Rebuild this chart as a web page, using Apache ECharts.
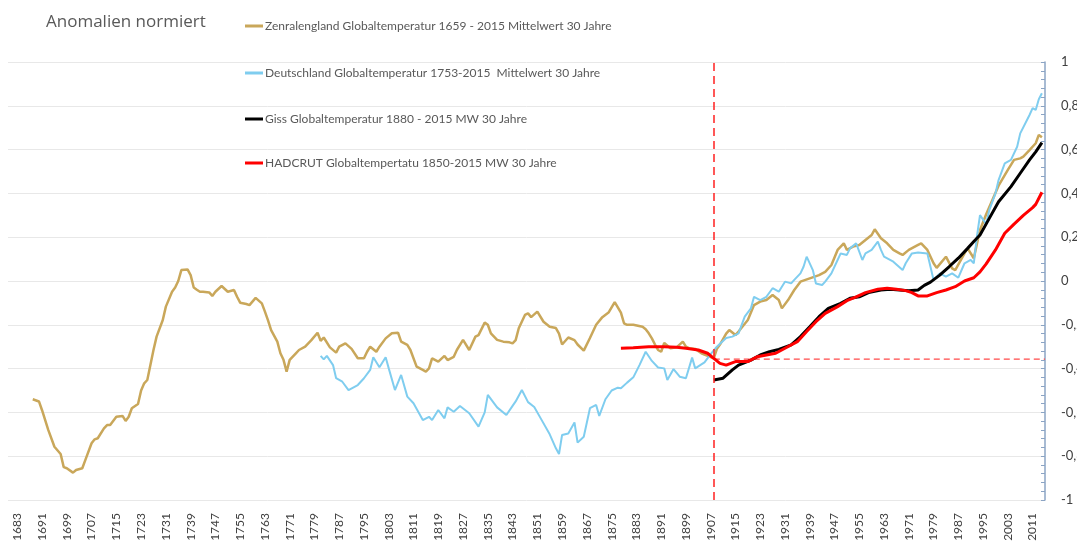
<!DOCTYPE html>
<html>
<head>
<meta charset="utf-8">
<script src="https://cdn.jsdelivr.net/npm/echarts@6/dist/echarts.min.js"></script>
<style>
html, body { margin: 0; padding: 0; background: #fff; }
#chart { width: 1077px; height: 552px; }
</style>
</head>
<body>
<div id="chart"></div>
<script>
// Zentralengland (gold)
var goldYears = [1688,1690,1691,1693,1695,1697,1698,1699,1701,1702,1704,1705,1707,1708,1709,1711,1712,1713,1715,1717,1718,1719,1720,1722,1723,1724,1725,1726,1727,1728,1730,1731,1733,1734,1735,1736,1738,1739,1740,1741,1742,1743,1745,1746,1747,1749,1751,1753,1754,1755,1757,1758,1760,1762,1763,1764,1765,1767,1768,1769,1770,1771,1773,1774,1776,1778,1780,1781,1782,1784,1786,1787,1789,1791,1793,1795,1796,1797,1799,1800,1802,1804,1806,1807,1809,1810,1812,1814,1815,1816,1817,1819,1821,1822,1824,1825,1827,1829,1831,1832,1834,1835,1836,1837,1838,1840,1842,1843,1844,1845,1847,1848,1849,1851,1853,1855,1857,1858,1859,1861,1863,1864,1866,1868,1870,1872,1874,1876,1878,1879,1880,1882,1885,1886,1887,1888,1889,1890,1891,1892,1894,1896,1898,1899,1900,1902,1904,1906,1908,1909,1910,1912,1913,1915,1916,1919,1921,1923,1925,1927,1929,1930,1932,1934,1936,1939,1942,1944,1946,1948,1950,1951,1953,1955,1957,1959,1960,1962,1964,1966,1968,1969,1971,1974,1975,1977,1979,1980,1983,1985,1986,1989,1990,1992,1994,1996,1998,2000,2003,2005,2007,2008,2010,2012,2013,2014];
var goldVals = [-0.54,-0.55,-0.59,-0.68,-0.757,-0.79,-0.85,-0.855,-0.875,-0.863,-0.855,-0.817,-0.741,-0.723,-0.718,-0.673,-0.658,-0.658,-0.62,-0.616,-0.639,-0.62,-0.581,-0.562,-0.5,-0.467,-0.452,-0.384,-0.315,-0.254,-0.178,-0.117,-0.049,-0.03,0.0,0.05,0.053,0.027,-0.03,-0.04,-0.049,-0.049,-0.052,-0.068,-0.049,-0.023,-0.049,-0.041,-0.072,-0.099,-0.105,-0.11,-0.077,-0.102,-0.14,-0.18,-0.224,-0.277,-0.33,-0.36,-0.414,-0.36,-0.33,-0.315,-0.3,-0.27,-0.236,-0.273,-0.258,-0.303,-0.327,-0.3,-0.285,-0.31,-0.353,-0.353,-0.323,-0.3,-0.323,-0.3,-0.262,-0.239,-0.236,-0.277,-0.292,-0.315,-0.391,-0.406,-0.414,-0.399,-0.353,-0.368,-0.342,-0.361,-0.346,-0.315,-0.269,-0.315,-0.254,-0.247,-0.19,-0.2,-0.239,-0.254,-0.269,-0.277,-0.28,-0.285,-0.27,-0.216,-0.155,-0.148,-0.165,-0.14,-0.186,-0.209,-0.215,-0.24,-0.29,-0.258,-0.27,-0.29,-0.318,-0.26,-0.2,-0.165,-0.144,-0.096,-0.144,-0.193,-0.2,-0.2,-0.209,-0.22,-0.239,-0.262,-0.29,-0.315,-0.323,-0.283,-0.307,-0.303,-0.277,-0.3,-0.307,-0.31,-0.33,-0.342,-0.353,-0.31,-0.29,-0.24,-0.224,-0.247,-0.231,-0.178,-0.11,-0.094,-0.087,-0.064,-0.087,-0.125,-0.087,-0.041,-0.003,0.012,0.027,0.042,0.073,0.142,0.172,0.142,0.157,0.164,0.187,0.21,0.236,0.195,0.172,0.142,0.126,0.119,0.142,0.165,0.172,0.142,0.081,0.06,0.111,0.058,0.05,0.126,0.149,0.104,0.233,0.305,0.37,0.435,0.507,0.553,0.56,0.568,0.598,0.629,0.667,0.656];

// Deutschland (hellblau)
var blueYears = [1781,1782,1783,1785,1786,1788,1790,1793,1795,1797,1798,1800,1802,1803,1805,1807,1809,1811,1814,1816,1817,1819,1821,1822,1824,1826,1829,1832,1834,1835,1838,1841,1843,1844,1846,1848,1850,1852,1855,1857,1858,1859,1861,1863,1864,1866,1868,1870,1871,1873,1875,1877,1878,1880,1882,1884,1886,1888,1890,1892,1893,1895,1897,1899,1901,1902,1905,1907,1909,1912,1914,1916,1918,1920,1921,1923,1925,1927,1929,1930,1931,1933,1934,1936,1937,1938,1940,1941,1943,1944,1946,1948,1949,1951,1952,1954,1956,1957,1959,1961,1962,1963,1966,1969,1970,1972,1974,1977,1978,1979,1981,1983,1985,1987,1989,1991,1992,1993,1994,1996,1997,1999,2000,2002,2004,2006,2007,2010,2011,2012,2013,2014];
var blueVals = [-0.342,-0.358,-0.342,-0.384,-0.444,-0.46,-0.498,-0.475,-0.444,-0.406,-0.348,-0.394,-0.348,-0.399,-0.498,-0.429,-0.528,-0.558,-0.635,-0.62,-0.635,-0.589,-0.627,-0.577,-0.597,-0.571,-0.604,-0.665,-0.6,-0.52,-0.577,-0.612,-0.57,-0.55,-0.498,-0.553,-0.575,-0.625,-0.7,-0.764,-0.79,-0.703,-0.696,-0.646,-0.738,-0.711,-0.581,-0.566,-0.616,-0.54,-0.5,-0.487,-0.49,-0.464,-0.44,-0.384,-0.323,-0.365,-0.395,-0.399,-0.452,-0.402,-0.437,-0.444,-0.35,-0.399,-0.372,-0.334,-0.3,-0.26,-0.254,-0.239,-0.163,-0.125,-0.072,-0.087,-0.072,-0.033,-0.049,-0.026,-0.003,-0.011,0.005,0.035,0.065,0.111,0.05,-0.011,-0.018,-0.003,0.035,0.096,0.126,0.119,0.149,0.172,0.096,0.126,0.142,0.18,0.142,0.111,0.088,0.05,0.081,0.126,0.13,0.126,0.065,0.005,0.035,0.02,0.035,0.015,0.081,0.096,0.081,0.202,0.301,0.26,0.324,0.4,0.461,0.537,0.553,0.613,0.674,0.758,0.789,0.781,0.83,0.857];

// GISS (schwarz)
var blackYears = [1908,1911,1914,1916,1920,1923,1926,1929,1933,1936,1939,1942,1945,1949,1952,1955,1958,1962,1965,1968,1971,1974,1976,1978,1981,1984,1987,1990,1992,1994,1997,2000,2004,2007,2010,2012,2014];
var blackVals = [-0.452,-0.444,-0.406,-0.384,-0.361,-0.338,-0.323,-0.312,-0.292,-0.254,-0.209,-0.163,-0.125,-0.102,-0.079,-0.072,-0.053,-0.041,-0.038,-0.041,-0.044,-0.041,-0.02,-0.005,0.027,0.065,0.104,0.149,0.18,0.21,0.286,0.362,0.431,0.492,0.553,0.59,0.632];

// HADCRUT (rot)
var redYears = [1878,1882,1887,1892,1896,1899,1903,1906,1908,1910,1912,1915,1919,1922,1925,1928,1931,1935,1938,1941,1944,1948,1951,1954,1957,1961,1964,1967,1970,1972,1974,1977,1980,1983,1986,1989,1992,1994,1996,1999,2002,2005,2008,2011,2012,2014];
var redVals = [-0.307,-0.305,-0.3,-0.3,-0.303,-0.307,-0.315,-0.33,-0.353,-0.376,-0.384,-0.368,-0.368,-0.346,-0.338,-0.33,-0.307,-0.277,-0.231,-0.186,-0.148,-0.117,-0.09,-0.072,-0.053,-0.038,-0.033,-0.038,-0.044,-0.053,-0.068,-0.068,-0.053,-0.041,-0.026,0.0,0.015,0.042,0.078,0.142,0.218,0.26,0.3,0.335,0.35,0.405];

var xLabelYears = [1683,1691,1699,1707,1715,1723,1731,1739,1747,1755,1763,1771,1779,1787,1795,1803,1811,1819,1827,1835,1843,1851,1859,1867,1875,1883,1891,1899,1907,1915,1923,1931,1939,1947,1955,1963,1971,1979,1987,1995,2003,2011];

// Referenzlinien
var markYear = 1908;
var markLevel = -0.357;
var markEnd = 2015;

var names = [
    'Zenralengland Globaltemperatur 1659 - 2015 Mittelwert 30 Jahre',
    'Deutschland Globaltemperatur 1753-2015  Mittelwert 30 Jahre',
    'Giss Globaltemperatur 1880 - 2015 MW 30 Jahre',
    'HADCRUT Globaltempertatu 1850-2015 MW 30 Jahre'
];
var colors = ['#c9a75a', '#7fcdef', '#000000', '#ff0000'];

function pairs(years, vals) {
    return years.map(function (y, i) { return [y, vals[i]]; });
}

var font = 'Lato';
var legendTops = [20, 67, 113, 157];

var chart = echarts.init(document.getElementById('chart'));

var option = {
    backgroundColor: '#ffffff',
    animation: false,
    title: {
        text: 'Anomalien normiert',
        left: 41,
        top: 9,
        textStyle: { fontFamily: 'Open Sans', fontSize: 17, fontWeight: 'normal', color: '#595959' }
    },
    legend: names.map(function (n, i) {
        return {
            data: [n],
            left: 245,
            top: legendTops[i],
            padding: 0,
            icon: 'rect',
            itemWidth: 18,
            itemHeight: 3,
            itemGap: 3,
            textStyle: { fontFamily: font, fontSize: 12, color: '#595959', padding: [0, 0, 0, -3] }
        };
    }),
    grid: { left: 8, right: 32, top: 62, bottom: 52, outerBoundsMode: 'none', containLabel: false },
    xAxis: {
        type: 'value',
        min: 1680,
        max: 2015,
        interval: 1,
        axisLine: { show: false },
        axisTick: { show: false },
        splitLine: { show: false },
        axisLabel: {
            rotate: 90,
            margin: 13,
            fontFamily: font,
            fontSize: 12,
            color: '#404040',
            formatter: function (v) {
                return xLabelYears.indexOf(v) >= 0 ? String(v) : '';
            }
        }
    },
    yAxis: {
        type: 'value',
        position: 'right',
        min: -1,
        max: 1,
        interval: 0.2,
        axisLine: { show: true, lineStyle: { color: '#8ba4c4', width: 1.5 } },
        axisTick: { show: true, inside: true, length: 4, lineStyle: { color: '#8ba4c4' } },
        minorTick: { show: true, splitNumber: 5, length: 4, lineStyle: { color: '#8ba4c4' } },
        splitLine: { show: true, lineStyle: { color: '#e8e8e8', width: 1 } },
        axisLabel: {
            margin: 16,
            fontFamily: font,
            fontSize: 13,
            color: '#404040',
            formatter: function (v) {
                var r = Math.round(v * 10) / 10;
                return String(r).replace('.', ',');
            }
        }
    },
    series: [
        {
            name: 'ref', type: 'line', symbol: 'none', silent: true, z: 1,
            data: [[markYear, markLevel], [markEnd, markLevel]],
            lineStyle: { color: '#ff4a4a', type: [6, 4], width: 1.2 },
            itemStyle: { color: '#ff4a4a' }
        },
        {
            name: names[0], type: 'line', symbol: 'none', data: pairs(goldYears, goldVals),
            lineStyle: { color: colors[0], width: 2.5 }, itemStyle: { color: colors[0] }
        },
        {
            name: names[1], type: 'line', symbol: 'none', data: pairs(blueYears, blueVals),
            lineStyle: { color: colors[1], width: 2 }, itemStyle: { color: colors[1] }
        },
        {
            name: names[2], type: 'line', symbol: 'none', data: pairs(blackYears, blackVals),
            lineStyle: { color: colors[2], width: 3 }, itemStyle: { color: colors[2] }
        },
        {
            name: names[3], type: 'line', symbol: 'none', data: pairs(redYears, redVals),
            lineStyle: { color: colors[3], width: 3 }, itemStyle: { color: colors[3] },
            markLine: {
                silent: true,
                symbol: ['none', 'none'],
                label: { show: false },
                lineStyle: { color: '#ff2020', type: [8, 5], width: 1.5 },
                data: [
                    { xAxis: markYear }
                ]
            }
        }
    ]
};

chart.setOption(option);
</script>
</body>
</html>
